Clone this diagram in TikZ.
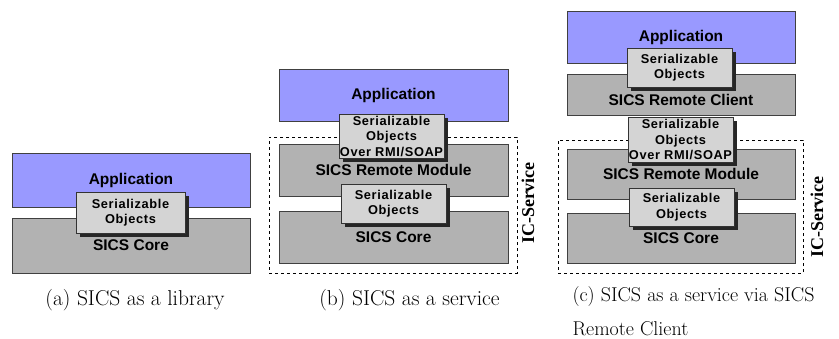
\documentclass[tikz,border=0pt]{standalone}
\usepackage{fontspec}
\newfontfamily\boxfont{Liberation Sans}
\newfontfamily\serfont[LetterSpace=5]{Liberation Sans}
\newfontfamily\icfont{Liberation Serif}
\usetikzlibrary{shadows}
\definecolor{appblue}{RGB}{153,153,255}
\definecolor{layergray}{RGB}{178,178,178}
\definecolor{sergray}{RGB}{212,212,212}
\tikzset{layerbox/.style={draw=black!75, line width=0.8pt, fill=layergray, minimum width=229pt,
  minimum height=52pt, inner sep=0pt, font=\boxfont\bfseries\fontsize{15.5}{18}\selectfont},
appbox/.style={layerbox, fill=appblue},
%boxes that carry the objects between two layers
serbox/.style={draw=black!80, line width=0.8pt, fill=sergray, minimum width=105pt, inner sep=0pt,
  align=center, font=\serfont\bfseries\fontsize{12.8}{15.5}\selectfont,
  drop shadow={shadow xshift=4pt, shadow yshift=-4pt, opacity=1, fill=black!85}},
icframe/.style={draw, dashed, line width=0.7pt, inner sep=0pt},
iclabel/.style={rotate=90, font=\icfont\bfseries\fontsize{18}{20}\selectfont},
caption/.style={font=\fontsize{21.5}{34}\selectfont}}

\begin{document}
\begin{tikzpicture}[x=1pt,y=-1pt]
    \useasboundingbox (0,0) rectangle (839,338);

    % (a) library
    \node[appbox, minimum width=238pt, minimum height=54pt] (appA) at (131,180) {Application};
    \node[layerbox, minimum width=238pt, minimum height=55pt] (coreA) at (131,245.5) {SICS Core};
    \node[serbox, minimum width=109pt, minimum height=41pt] (serA) at (130.5,212.5) {Serializable\\Objects};
    \node[caption] (capA) at (135,300) {(a) SICS as a library};

    % (b) service
    \node[icframe, minimum width=248pt, minimum height=136pt] (frameB) at (393,205) {};
    \node[iclabel] (icB) at (528,203) {IC-Service};
    \node[appbox] (appB) at (393.5,95) {Application};
    \node[layerbox] (moduleB) at (393.5,170) {SICS Remote Module};
    \node[layerbox] (coreB) at (393.5,237) {SICS Core};
    \node[serbox, minimum height=44pt] (rmiB) at (391.5,136) {Serializable\\Objects\\Over RMI/SOAP};
    \node[serbox, minimum height=39pt] (serB) at (393.5,203.5) {Serializable\\Objects};
    \node[caption] (capB) at (409.5,300) {(b) SICS as a service};

    % (c) service via remote client
    \node[icframe, minimum width=245pt, minimum height=133pt] (frameC) at (680.5,206.5) {};
    \node[iclabel] (icC) at (817,217) {IC-Service};
    \node[appbox, minimum width=228pt, minimum height=52pt] (appC) at (681,37) {Application};
    \node[layerbox, minimum width=228pt, minimum height=41pt, text height=21pt, text depth=0pt] (clientC) at (681,94.5) {SICS Remote Client};
    \node[layerbox, minimum width=228pt, minimum height=50pt] (moduleC) at (681,174) {SICS Remote Module};
    \node[layerbox, minimum width=228pt, minimum height=50pt] (coreC) at (681,238) {SICS Core};
    \node[serbox, minimum height=39pt] (serC1) at (679.5,67.5) {Serializable\\Objects};
    \node[serbox, minimum height=45pt] (rmiC) at (680.5,139.5) {Serializable\\Objects\\Over RMI/SOAP};
    \node[serbox, minimum height=38pt] (serC2) at (681.5,207) {Serializable\\Objects};
    \node[caption, font=\fontsize{20}{34}\selectfont, align=left, anchor=west] (capC) at (569,311) {(c) SICS as a service via SICS\\Remote Client};

\end{tikzpicture}
\end{document}
